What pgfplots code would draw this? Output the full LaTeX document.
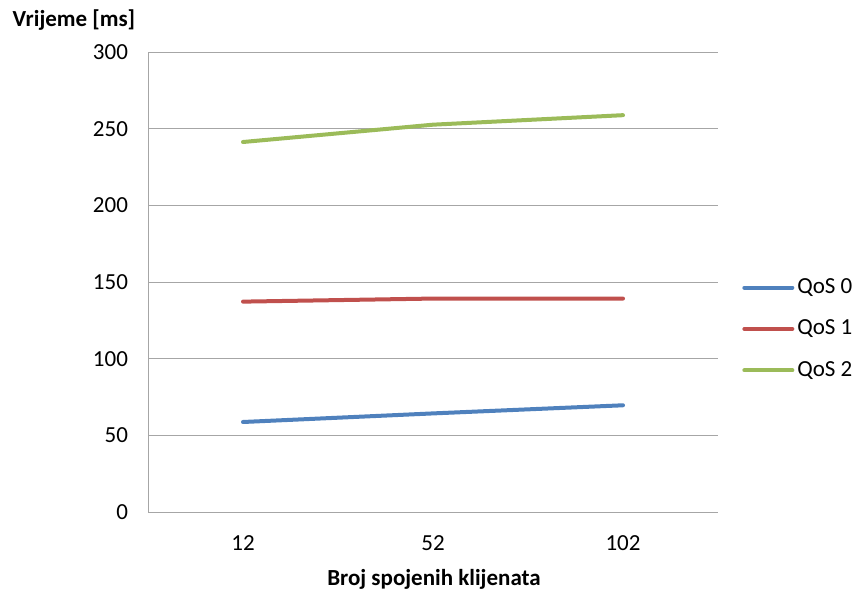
\documentclass[border=0pt]{standalone}
\usepackage{fontspec}
\setmainfont{Carlito}
\usepackage{pgfplots}
\pgfplotsset{compat=1.18}
\definecolor{qa}{HTML}{4F81BD}
\definecolor{qb}{HTML}{C0504D}
\definecolor{qc}{HTML}{9BBB59}
\definecolor{gridc}{HTML}{A6A6A6}
\begin{document}
\fontsize{11.5pt}{13pt}\selectfont
\begin{tikzpicture}
\path[use as bounding box] (0,0) rectangle (426pt,295.5pt);
\begin{axis}[
  at={(74pt,39.5pt)}, anchor=south west,
  scale only axis, width=285pt, height=230pt,
  xmin=-0.5, xmax=2.5, ymin=0, ymax=300,
  xtick={0,1,2}, xticklabels={12,52,102},
  ytick={0,50,...,300},
  axis x line*=bottom, axis y line*=left,
  axis line style={draw=gridc, line width=0.5pt, -},
  major tick length=0pt,
  ymajorgrids, grid style={draw=gridc, line width=0.5pt},
  yticklabel style={xshift=-6pt},
  xticklabel style={yshift=-8pt},
  tick label style={font=\fontsize{11.5pt}{13pt}\selectfont},
  /pgf/number format/assume math mode=true,
  legend style={draw=none, fill=none, at={(rel axis cs:1.042,0.398)}, anchor=west,
    font=\fontsize{11.5pt}{13pt}\selectfont, row sep=11.5pt, inner sep=0pt,
    nodes={inner xsep=1.5pt, inner ysep=0pt}},
  legend cell align=left,
  legend image code/.code={\draw[#1] (0pt,0pt) -- (24pt,0pt);},
  clip=false,
]
\addplot[qa, line width=2pt, line cap=round] coordinates {(0,58.7) (1,64.3) (2,69.6)};
\addlegendentry{QoS 0}
\addplot[qb, line width=2pt, line cap=round] coordinates {(0,137.2) (1,139.2) (2,139.2)};
\addlegendentry{QoS 1}
\addplot[qc, line width=2pt, line cap=round] coordinates {(0,241.3) (1,252.6) (2,258.8)};
\addlegendentry{QoS 2}
\end{axis}
\node[font=\bfseries\fontsize{11.5pt}{13pt}\selectfont] at (37pt,285.5pt) {Vrijeme [ms]};
\node[font=\bfseries\fontsize{11.5pt}{13pt}\selectfont] at (217pt,6pt) {Broj spojenih klijenata};
\end{tikzpicture}
\end{document}
